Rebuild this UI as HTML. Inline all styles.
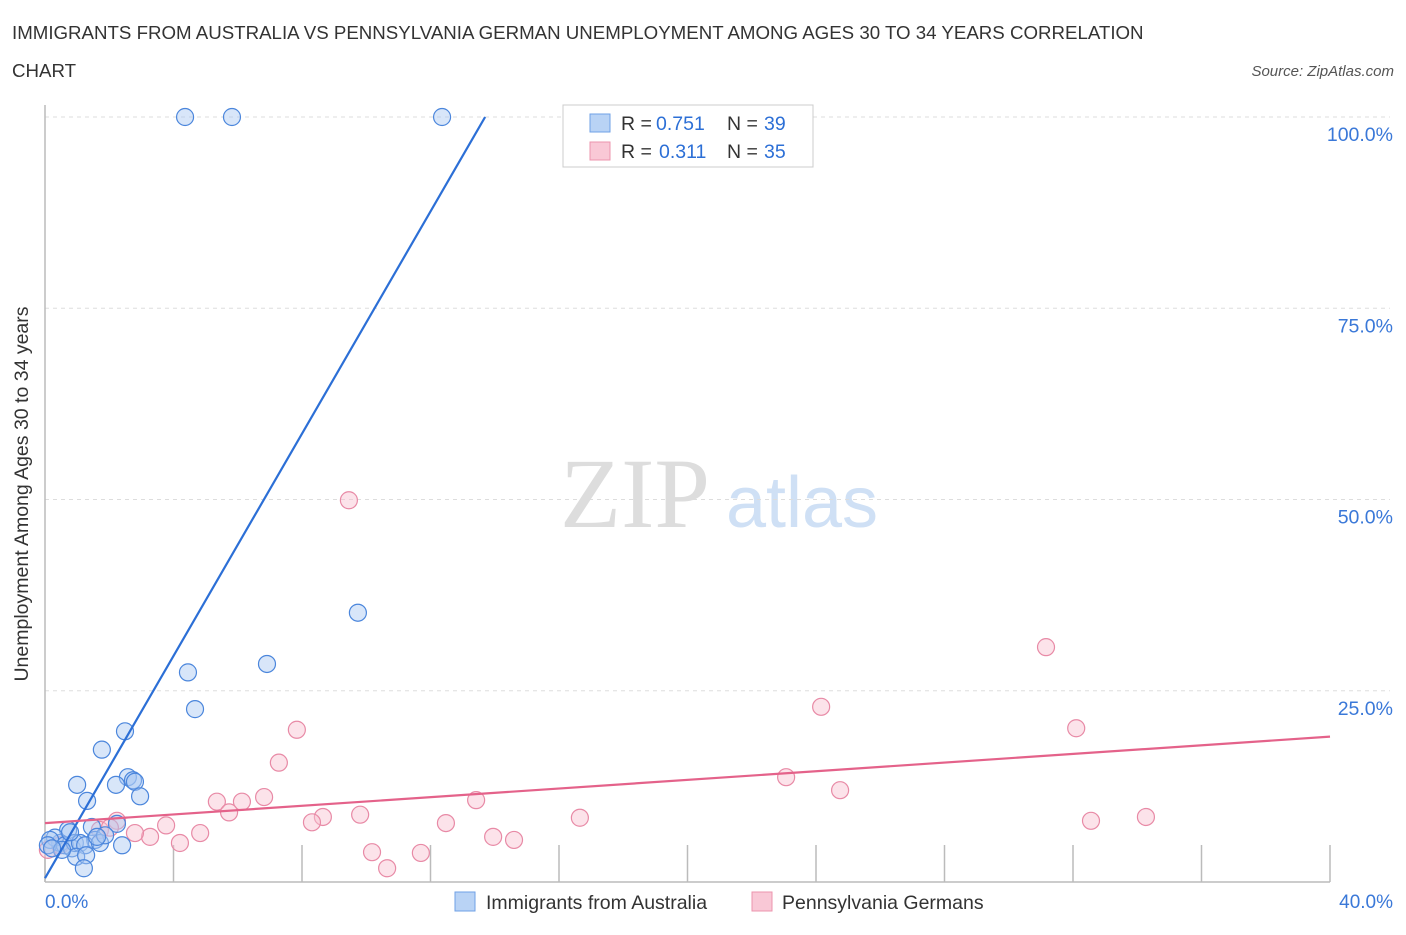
<!DOCTYPE html>
<html><head><meta charset="utf-8"><style>
body{margin:0;background:#fff;font-family:"Liberation Sans",sans-serif;}
</style></head><body>
<svg width="1406" height="930" id="chart" font-family="Liberation Sans, sans-serif">
<text x="12" y="39" font-size="18.7" fill="#333">IMMIGRANTS FROM AUSTRALIA VS PENNSYLVANIA GERMAN UNEMPLOYMENT AMONG AGES 30 TO 34 YEARS CORRELATION</text>
<text x="12" y="77" font-size="18.7" fill="#333">CHART</text>
<text x="1394" y="76" font-size="15" fill="#555" font-style="italic" text-anchor="end">Source: ZipAtlas.com</text>
<g>
<text x="635" y="527" font-size="100" fill="#ddd" style="font-family:'Liberation Serif',serif" text-anchor="middle">ZIP</text>
<text x="802" y="527" font-size="72" fill="#cfe0f5" text-anchor="middle">atlas</text>
</g>
<g id="grid"></g>
<line x1="45" y1="105" x2="45" y2="882" stroke="#bbb" stroke-width="1.5"/>
<line x1="45" y1="882" x2="1330" y2="882" stroke="#bbb" stroke-width="1.5"/>
<g id="pts"></g>
<text x="28" y="494" font-size="19.5" fill="#333" text-anchor="middle" transform="rotate(-90 28 494)">Unemployment Among Ages 30 to 34 years</text>
<text x="45" y="908" font-size="19" fill="#3a78d8">0.0%</text>
<text x="1393" y="908" font-size="19" fill="#3a78d8" text-anchor="end">40.0%</text>
<g>
<rect x="563" y="105" width="250" height="62" fill="#fff" stroke="#ccc"/>
<rect x="590" y="114" width="20" height="18" fill="#b9d3f5" stroke="#6fa0e6"/>
<rect x="590" y="142" width="20" height="18" fill="#f9c8d6" stroke="#ec94ae"/>
<text x="621" y="130" font-size="19.5" fill="#333">R =</text>
<text x="656" y="130" font-size="19.5" fill="#2c6fd6">0.751</text>
<text x="727" y="130" font-size="19.5" fill="#333">N =</text>
<text x="764" y="130" font-size="19.5" fill="#2c6fd6">39</text>
<text x="621" y="158" font-size="19.5" fill="#333">R =</text>
<text x="659" y="158" font-size="19.5" fill="#2c6fd6">0.311</text>
<text x="727" y="158" font-size="19.5" fill="#333">N =</text>
<text x="764" y="158" font-size="19.5" fill="#2c6fd6">35</text>
</g>
<g>
<rect x="455" y="892" width="20" height="19" fill="#b9d3f5" stroke="#6fa0e6"/>
<text x="486" y="909" font-size="19.5" fill="#333">Immigrants from Australia</text>
<rect x="752" y="892" width="20" height="19" fill="#f9c8d6" stroke="#ec94ae"/>
<text x="782" y="909" font-size="19.5" fill="#333">Pennsylvania Germans</text>
</g>
</svg>
<script>
const yTicks=[25,50,75,100];
const yTickLabels=["25.0%","50.0%","75.0%","100.0%"];
const xTickVals=[0,4,8,12,16,20,24,28,32,36,40];
const blueX=[4.36,5.82,12.36,9.74,6.91,4.45,4.67,2.49,1.77,1.00,1.31,2.58,2.74,2.80,2.96,2.21,2.24,1.46,1.56,0.72,0.47,0.31,0.16,0.09,0.62,0.84,0.93,1.09,1.25,1.71,1.87,0.97,1.28,1.21,2.40,1.62,0.78,0.53,0.22];
const blueY=[100,100,100,35.2,28.5,27.4,22.6,19.7,17.3,12.7,10.6,13.7,13.3,13.1,11.2,12.7,7.6,7.2,5.5,6.8,5.1,5.8,5.5,4.8,4.8,4.4,5.1,5.1,4.8,5.1,6.1,3.3,3.5,1.8,4.8,5.9,6.5,4.2,4.4];
const pinkX=[9.46,31.16,24.16,32.10,7.84,7.28,23.07,24.75,6.82,13.42,5.35,6.13,5.73,9.81,8.65,8.31,16.65,34.27,32.56,2.24,3.77,12.48,4.83,3.27,2.80,13.95,14.60,4.20,10.18,11.70,10.65,1.71,0.09,0.47,2.02];
const pinkY=[49.9,30.7,22.9,20.1,19.9,15.6,13.7,12.0,11.1,10.7,10.5,10.5,9.1,8.8,8.5,7.8,8.4,8.5,8.0,8.0,7.4,7.7,6.4,5.9,6.4,5.9,5.5,5.1,3.9,3.8,1.8,6.8,4.2,4.8,7.1];
const blueLine=[[0,0.5],[13.7,100]];
const pinkLine=[[0,7.7],[40,19.0]];
const NS="http://www.w3.org/2000/svg";
const sx=v=>45+v/40*1285, sy=v=>882-v/100*765;
const grid=document.getElementById('grid'), pts=document.getElementById('pts');
function mk(tag,attrs,parent){const e=document.createElementNS(NS,tag);for(const k in attrs)e.setAttribute(k,attrs[k]);parent.appendChild(e);return e;}
yTicks.forEach((t,i)=>{
 const l=mk('line',{x1:45,x2:1390,y1:sy(t),y2:sy(t),stroke:'#ddd','stroke-dasharray':'4,4'},grid);
 
 
 const tx=mk('text',{x:1393,y:sy(t)+24,'font-size':19.5,fill:'#3a78d8','text-anchor':'end'},grid);
 tx.textContent=yTickLabels[i];
 
 
});
xTickVals.forEach(t=>{
 const l=mk('line',{x1:sx(t),x2:sx(t),y1:845,y2:882,stroke:'#bbb','stroke-width':1.5},grid);
 
 
});
function dots(X,Y,fill,stroke,name){
 X.forEach((x,i)=>{
  const c=mk('circle',{cx:sx(x),cy:sy(Y[i]),r:8.5,fill:fill,'fill-opacity':0.45,stroke:stroke,'stroke-width':1.2},pts);
  
  
 });
}
dots(pinkX,pinkY,'#f9c0d0','#e88aa6','pa-german-point');
dots(blueX,blueY,'#a9c8f2','#4b86dc','australia-point');
const bl=mk('line',{x1:sx(blueLine[0][0]),y1:sy(blueLine[0][1]),x2:sx(blueLine[1][0]),y2:sy(blueLine[1][1]),stroke:'#2c6fd6','stroke-width':2.2},pts);


const pl=mk('line',{x1:sx(pinkLine[0][0]),y1:sy(pinkLine[0][1]),x2:sx(pinkLine[1][0]),y2:sy(pinkLine[1][1]),stroke:'#e4628a','stroke-width':2.2},pts);


</script>
</body></html>
